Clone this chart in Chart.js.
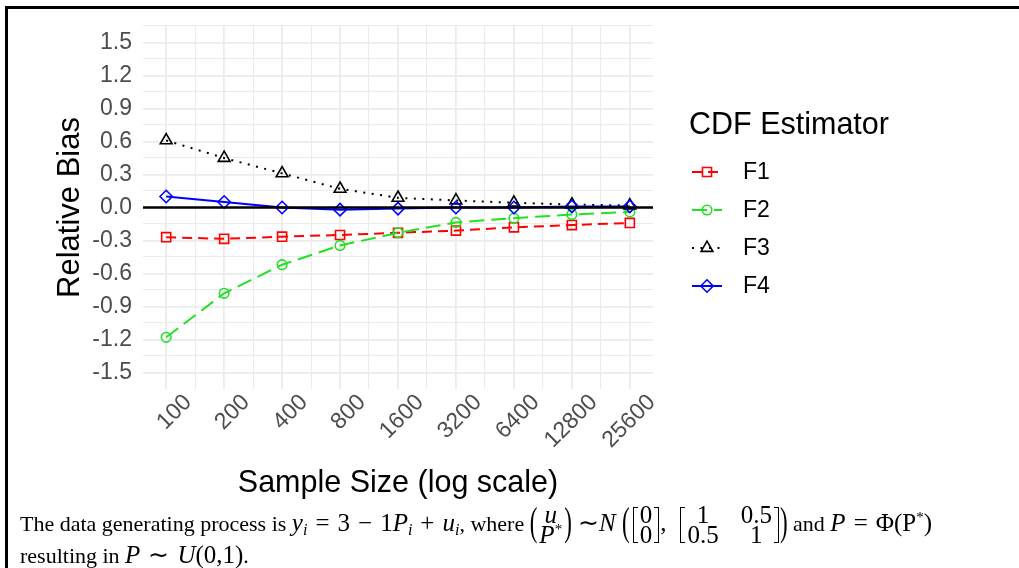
<!DOCTYPE html>
<html>
<head>
<meta charset="utf-8">
<script src="https://cdn.jsdelivr.net/npm/chart.js@4"></script>
<style>
html,body{margin:0;padding:0;background:#fff;}
body{width:1019px;height:568px;overflow:hidden;position:relative;font-family:"Liberation Serif","Times New Roman",serif;}
#wrap{position:absolute;left:0;top:0;width:1019px;height:505px;}
#frameTop{position:absolute;left:5px;top:6px;width:1014px;height:3px;background:#000;}
#frameLeft{position:absolute;left:5px;top:6px;width:3px;height:562px;background:#000;}
.cap{position:absolute;left:20px;font-size:22px;white-space:nowrap;color:#000;}
#cap1{top:503px;line-height:40px;}
#cap2{top:542px;line-height:26px;}
.m{font-size:25px;}
.op{margin:0 8px;}
.cap sub{font-size:16px;vertical-align:-4px;line-height:0;}
.cap sup{font-size:15px;vertical-align:9px;line-height:0;}
.dl{display:inline-block;transform:scale(1,1.7);vertical-align:middle;line-height:22px;position:relative;top:-2px;font-size:23px;}
.stack{display:inline-flex;flex-direction:column;align-items:center;vertical-align:middle;line-height:20px;margin:0 2px;}
.bk{display:inline-block;width:5px;height:36px;border:1.4px solid #000;vertical-align:middle;box-sizing:border-box;}
.bl{border-right:none;margin-left:3px;}
.br{border-left:none;margin-right:1px;}
.mat{display:inline-grid;grid-template-columns:auto auto;column-gap:22px;justify-items:center;vertical-align:middle;line-height:20px;margin:0 2px;}
</style>
</head>
<body>
<div id="wrap"><canvas id="c"></canvas></div>
<div id="frameTop"></div>
<div id="frameLeft"></div>
<div class="cap" id="cap1">The data generating process is <span class="m"><i>y</i><sub><i>i</i></sub><span class="op">=</span>3<span class="op">−</span>1<i>P</i><sub><i>i</i></sub><span class="op">+</span><i>u</i><sub><i>i</i></sub></span>, where <span class="m"><span class="dl">(</span><span class="stack"><i>u</i><span><i>P</i><sup>*</sup></span></span><span class="dl">)</span> ∼<i>N</i> <span class="dl">(</span><span class="bk bl"></span><span class="stack">0<span>0</span></span><span class="bk br"></span>,<span class="bk bl" style="margin-left:14px"></span><span class="mat"><span>1</span><span>0.5</span><span>0.5</span><span>1</span></span><span class="bk br"></span><span class="dl">)</span></span> and <span class="m"><i>P</i><span class="op">=</span>Φ(P<sup>*</sup>)</span></div>
<div class="cap" id="cap2">resulting in <span class="m"><i>P</i><span class="op">∼</span><i>U</i>(0,1)</span>.</div>
<script>
const categories = ['100','200','400','800','1600','3200','6400','12800','25600'];
const seriesNames = ['F1','F2','F3','F4'];
const F1 = [-0.27,-0.285,-0.265,-0.25,-0.23,-0.21,-0.18,-0.16,-0.14];
const F2 = [-1.18,-0.78,-0.52,-0.345,-0.23,-0.136,-0.097,-0.064,-0.04];
const F3 = [0.61,0.45,0.31,0.17,0.088,0.064,0.043,0.027,0.018];
const F4 = [0.10,0.05,0.0,-0.02,-0.01,0.0,0.0,0.01,0.01];
const yTickValues = [-1.5,-1.2,-0.9,-0.6,-0.3,0,0.3,0.6,0.9,1.2,1.5];
const yTickLabels = ['-1.5','-1.2','-0.9','-0.6','-0.3','0.0','0.3','0.6','0.9','1.2','1.5'];
const legendTitle = 'CDF Estimator';
const xTitle = 'Sample Size (log scale)';
const yTitle = 'Relative Bias';

const SANS = "'Liberation Sans', Arial, Helvetica, sans-serif";
const GRID = '#EBEBEB';

const xMajor = categories.map((_, i) => i);
const xMinor = xMajor.slice(0, -1).map(v => v + 0.5);
const yStep = yTickValues[1] - yTickValues[0];
const yMinor = yTickValues.slice(0, -1).map((v, i) => (v + yTickValues[i + 1]) / 2)
  .concat([yTickValues[yTickValues.length - 1] + yStep / 2]);

function isMajorY(v) { return yTickValues.some(t => Math.abs(t - v) < 1e-9); }

const styles = [
  { color: '#FF0000', dash: [10, 6], point: 'rect', r: 6.4 },
  { color: '#22E022', dash: [15, 7], point: 'circle', r: 4.8 },
  { color: '#000000', dash: [2, 6.5], point: 'triangle', r: 6.8 },
  { color: '#0000FF', dash: [], point: 'rectRot', r: 6.2 }
];
const values = [F1, F2, F3, F4];

const datasets = seriesNames.map((name, k) => ({
  label: name,
  data: values[k].map((v, i) => ({ x: i, y: v })),
  borderColor: styles[k].color,
  borderWidth: 2,
  borderDash: styles[k].dash,
  pointStyle: styles[k].point,
  pointRadius: styles[k].r,
  pointBorderWidth: 1.6,
  pointBorderColor: styles[k].color,
  pointBackgroundColor: 'rgba(0,0,0,0)',
  fill: false,
  tension: 0,
  order: 4 - k
}));

function drawMarker(ctx, style, x, y, r) {
  ctx.beginPath();
  if (style === 'rect') {
    const s = Math.SQRT1_2 * r; ctx.rect(x - s, y - s, 2 * s, 2 * s);
  } else if (style === 'circle') {
    ctx.arc(x, y, r, 0, Math.PI * 2);
  } else if (style === 'triangle') {
    const a = 2 * Math.PI / 3;
    ctx.moveTo(x, y - r);
    ctx.lineTo(x + Math.sin(a) * r, y - Math.cos(a) * r);
    ctx.lineTo(x + Math.sin(2 * a) * r, y - Math.cos(2 * a) * r);
    ctx.closePath();
  } else if (style === 'rectRot') {
    ctx.moveTo(x - r, y); ctx.lineTo(x, y - r); ctx.lineTo(x + r, y); ctx.lineTo(x, y + r); ctx.closePath();
  }
  ctx.stroke();
}

const zeroLine = {
  id: 'zeroLine',
  afterDatasetsDraw(chart) {
    const { ctx, chartArea, scales } = chart;
    const y0 = scales.y.getPixelForValue(0);
    ctx.save();
    ctx.strokeStyle = '#000';
    ctx.lineWidth = 2.4;
    ctx.beginPath();
    ctx.moveTo(chartArea.left, y0);
    ctx.lineTo(chartArea.right, y0);
    ctx.stroke();
    ctx.restore();
  }
};

const customLegend = {
  id: 'customLegend',
  afterDraw(chart) {
    const ctx = chart.ctx;
    ctx.save();
    ctx.fillStyle = '#000';
    ctx.textBaseline = 'middle';
    ctx.textAlign = 'left';
    ctx.font = '30.5px ' + SANS;
    ctx.fillText(legendTitle, 689, 126);
    chart.data.datasets.forEach((ds, k) => {
      const y = 172 + k * 38;
      ctx.strokeStyle = ds.borderColor;
      ctx.lineWidth = 2;
      ctx.setLineDash(ds.borderDash);
      ctx.beginPath();
      ctx.moveTo(692, y);
      ctx.lineTo(722, y);
      ctx.stroke();
      ctx.setLineDash([]);
      ctx.lineWidth = 1.6;
      drawMarker(ctx, ds.pointStyle, 707, y, ds.pointRadius);
      ctx.fillStyle = '#000';
      ctx.font = '23px ' + SANS;
      ctx.fillText(ds.label, 743, y + 1);
    });
    ctx.restore();
  }
};

new Chart(document.getElementById('c'), {
  type: 'line',
  data: { datasets },
  plugins: [zeroLine, customLegend],
  options: {
    responsive: true,
    maintainAspectRatio: false,
    animation: false,
    layout: { padding: { top: 26, right: 366, left: 0, bottom: 0 } },
    plugins: { legend: { display: false }, tooltip: { enabled: false } },
    scales: {
      x: {
        type: 'linear',
        min: -0.4,
        max: 8.4,
        afterBuildTicks(scale) {
          scale.ticks = xMajor.concat(xMinor).sort((a, b) => a - b).map(v => ({ value: v }));
        },
        afterFit(scale) { scale.height = 116; },
        grid: {
          color: GRID,
          lineWidth: ctx => (ctx.tick && Number.isInteger(ctx.tick.value)) ? 1.8 : 1.1,
          drawTicks: false
        },
        border: { display: false },
        ticks: {
          autoSkip: false,
          minRotation: 45,
          maxRotation: 45,
          padding: 0,
          labelOffset: 22,
          color: '#4D4D4D',
          font: { size: 23, family: SANS },
          callback: v => Number.isInteger(v) ? categories[v] : ''
        },
        title: {
          display: true,
          text: xTitle,
          color: '#000',
          font: { size: 30.5, family: SANS, lineHeight: 1.2 },
          padding: { top: 0, bottom: 3 }
        }
      },
      y: {
        type: 'linear',
        min: -1.65,
        max: 1.65,
        afterBuildTicks(scale) {
          scale.ticks = yTickValues.concat(yMinor).sort((a, b) => a - b).map(v => ({ value: v }));
        },
        afterFit(scale) { scale.width = 143; },
        grid: {
          color: GRID,
          lineWidth: ctx => (ctx.tick && isMajorY(ctx.tick.value)) ? 1.8 : 1.1,
          drawTicks: false
        },
        border: { display: false },
        ticks: {
          autoSkip: false,
          padding: 11,
          color: '#4D4D4D',
          font: { size: 23, family: SANS },
          callback: v => {
            const k = yTickValues.findIndex(t => Math.abs(t - v) < 1e-9);
            return k >= 0 ? yTickLabels[k] : '';
          }
        },
        title: {
          display: true,
          text: yTitle,
          color: '#000',
          font: { size: 31, family: SANS, lineHeight: 1.2 },
          padding: { top: 52, bottom: 0 }
        }
      }
    }
  }
});
</script>
</body>
</html>
